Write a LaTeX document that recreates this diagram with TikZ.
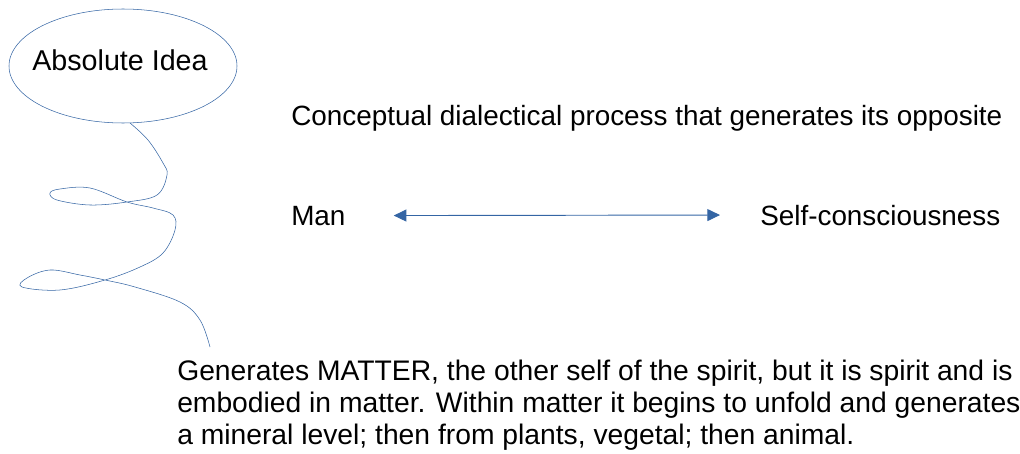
\documentclass[tikz,border=0pt]{standalone}
\usepackage{fontspec}
\setmainfont{Liberation Sans}
\usetikzlibrary{arrows.meta,shapes.geometric}
\definecolor{lineblue}{RGB}{52,101,164}

\begin{document}
\begin{tikzpicture}[x=0.75pt,y=-0.75pt,>={Triangle[length=9.5pt,width=9pt]},
  txt/.style={inner sep=0pt,font=\fontsize{20.9}{24}\selectfont},
  idea/.style={ellipse,draw=lineblue,thin,minimum width=171pt,minimum height=85.5pt,inner sep=0pt}]
\useasboundingbox (0,0) rectangle (1020,453);
\node[idea] (idea) at (123,66) {};
\node[txt,font=\fontsize{21.5}{24}\selectfont] (ideatext) at (120,60) {Absolute Idea};
\node[txt,anchor=base west] (process) at (291,125) {Conceptual dialectical process that generates its opposite};
\node[txt,anchor=base west] (man) at (291,225) {Man};
\node[txt,anchor=base west] (self) at (760,225) {Self-consciousness};
\node[txt,anchor=base west,align=left,font=\fontsize{21.2}{24}\selectfont] (matter) at (177,444) {Generates MATTER, the other self of the spirit, but it is spirit and is\\embodied in matter. Within matter it begins to unfold and generates\\a mineral level; then from plants, vegetal; then animal.};
\draw[lineblue,<->,line width=0.7pt] ([xshift=36pt]man.east) -- ([xshift=-30pt]self.west);
% hand drawn squiggle
\draw[lineblue,thin] plot[smooth,tension=0.6] coordinates {(130,123) (148,140) (163,163) (167,175) (157,195) (127,202) (90,205) (57,200) (50,193) (60,189) (90,188) (127,202) (153,208) (173,215) (175,230) (163,253) (140,267) (105,280) (60,290) (22,287) (27,278) (50,270) (80,275) (105,280) (135,287) (180,302) (200,320) (210,347)};
\end{tikzpicture}
\end{document}
